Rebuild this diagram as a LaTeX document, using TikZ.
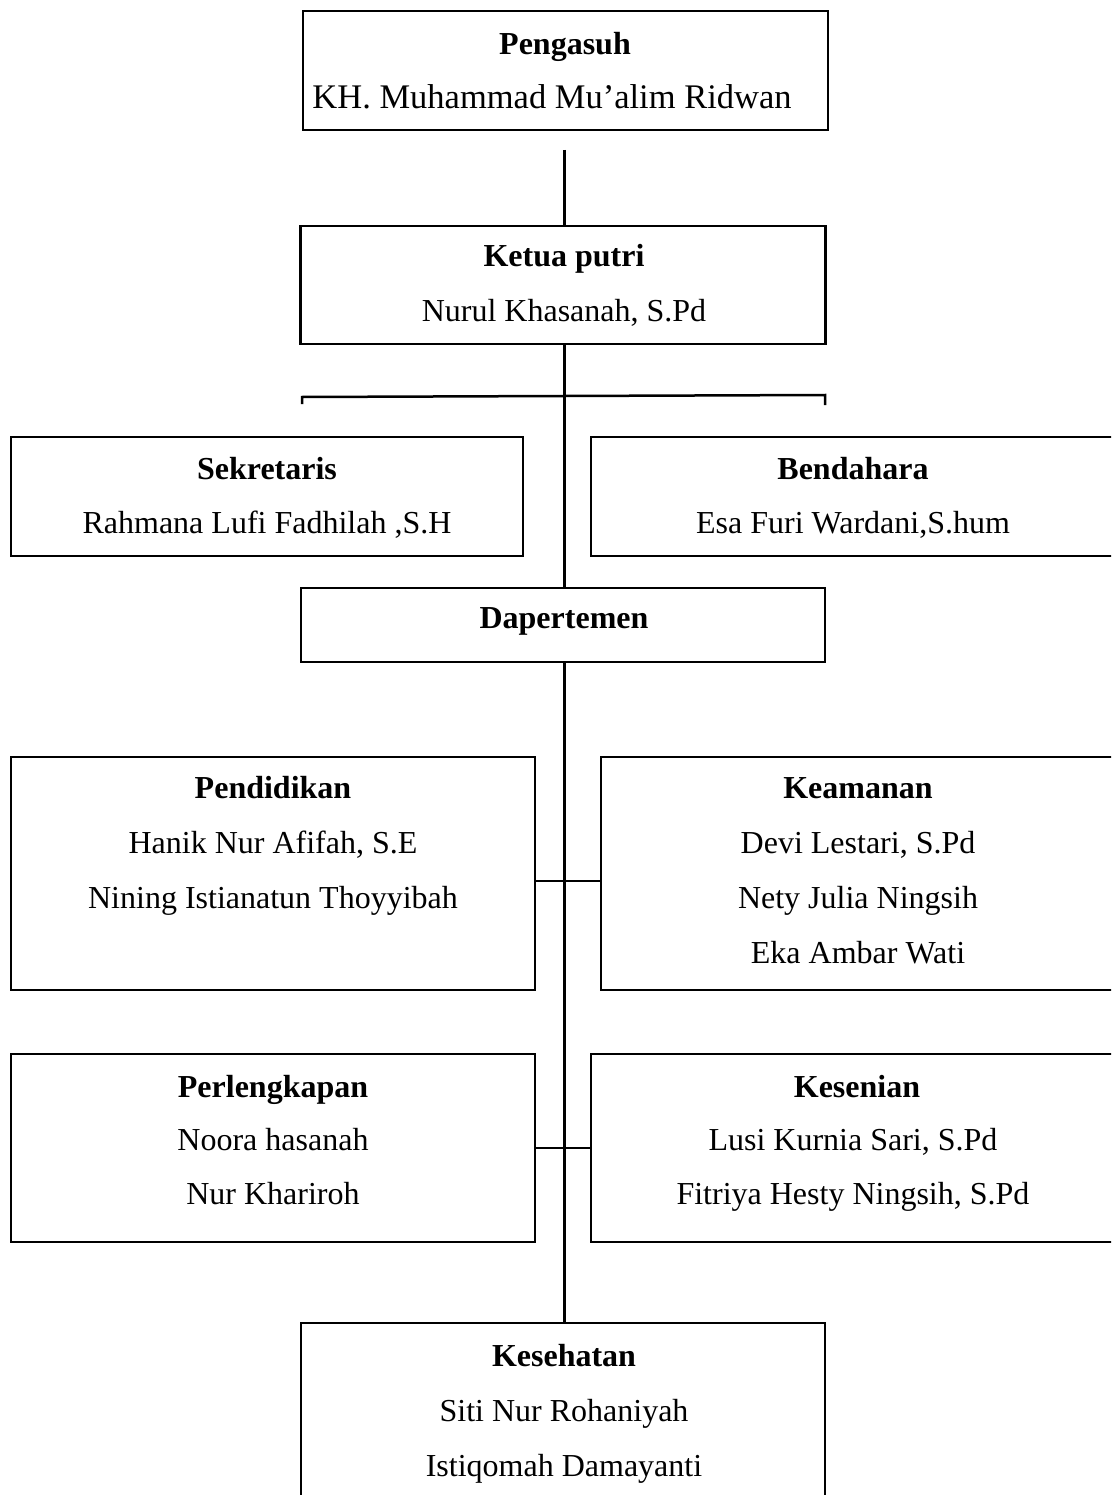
\documentclass[tikz,border=0pt]{standalone}
\usepackage{fontspec}
\setmainfont{Liberation Serif}
\begin{document}
\begin{tikzpicture}[x=1pt,y=-1pt,
  box/.style={draw, line width=2.5pt, rectangle, inner sep=0pt},
  txt/.style={inner sep=0pt, anchor=base, font=\fontsize{32}{38}\selectfont},
  hd/.style={txt, font=\fontsize{32}{38}\selectfont\bfseries},
  conn/.style={line width=2.5pt}]
\clip (0,0) rectangle (1111,1495);
\fill[white] (0,0) rectangle (1111,1495);
% boxes
\node[box, minimum width=525pt, minimum height=119pt] (peng) at (565.5,70.5) {};
\node[box, minimum width=525pt, minimum height=118pt] (ketua) at (563,285) {};
\node[box, minimum width=512pt, minimum height=119pt] (sekr) at (267,496.5) {};
\node[box, minimum width=524pt, minimum height=119pt] (bend) at (853,496.5) {};
\node[box, minimum width=524pt, minimum height=74pt] (dapt) at (563,625) {};
\node[box, minimum width=524pt, minimum height=233pt] (pend) at (273,873.5) {};
\node[box, minimum width=514pt, minimum height=233pt] (keam) at (858,873.5) {};
\node[box, minimum width=524pt, minimum height=188pt] (perl) at (273,1148) {};
\node[box, minimum width=524pt, minimum height=188pt] (kesn) at (853,1148) {};
\node[box, minimum width=524pt, minimum height=240pt] (kesh) at (563,1443) {};
% texts
\node[hd] (t1) at (565,55) {Pengasuh};
\node[txt, font=\fontsize{34.5}{40}\selectfont] (t2) at (552,109) {KH. Muhammad Mu’alim Ridwan};
\node[hd] (t3) at (564,267) {Ketua putri};
\node[txt] (t4) at (564,322) {Nurul Khasanah, S.Pd};
\node[hd] (t5) at (267,479) {Sekretaris};
\node[txt] (t6) at (267,533) {Rahmana Lufi Fadhilah ,S.H};
\node[hd] (t7) at (853,479) {Bendahara};
\node[txt] (t8) at (853,533) {Esa Furi Wardani,S.hum};
\node[hd] (t9) at (564,628) {Dapertemen};
\node[hd] (t10) at (273,798) {Pendidikan};
\node[txt] (t11) at (273,853) {Hanik Nur Afifah, S.E};
\node[txt] (t12) at (273,908) {Nining Istianatun Thoyyibah};
\node[hd] (t13) at (858,798) {Keamanan};
\node[txt] (t14) at (858,853) {Devi Lestari, S.Pd};
\node[txt] (t15) at (858,908) {Nety Julia Ningsih};
\node[txt] (t16) at (858,963) {Eka Ambar Wati};
\node[hd] (t17) at (273,1097) {Perlengkapan};
\node[txt] (t18) at (273,1150) {Noora hasanah};
\node[txt] (t19) at (273,1204) {Nur Khariroh};
\node[hd] (t20) at (857,1097) {Kesenian};
\node[txt] (t21) at (853,1150) {Lusi Kurnia Sari, S.Pd};
\node[txt] (t22) at (853,1204) {Fitriya Hesty Ningsih, S.Pd};
\node[hd] (t23) at (564,1366) {Kesehatan};
\node[txt] (t24) at (564,1421) {Siti Nur Rohaniyah};
\node[txt] (t25) at (564,1476) {Istiqomah Damayanti};
% connectors
\coordinate (c0) at (564.5,150);
\draw[conn] (c0) -- (c0 |- ketua.north);
\draw[conn] ([xshift=1.5pt]ketua.south) -- ([xshift=1.5pt]dapt.north);
\coordinate (bl1) at (302,404);
\coordinate (bl2) at (302,397);
\coordinate (br1) at (825,395);
\coordinate (br2) at (825,405);
\draw[conn] (bl1) -- (bl2) -- (br1) -- (br2);
\draw[conn] ([xshift=1.5pt]dapt.south) -- ([xshift=1.5pt]kesh.north);
\draw[conn] (pend.east |- 0,881) -- (keam.west |- 0,881);
\draw[conn] (perl.east |- 0,1148) -- (kesn.west |- 0,1148);
\end{tikzpicture}
\end{document}
